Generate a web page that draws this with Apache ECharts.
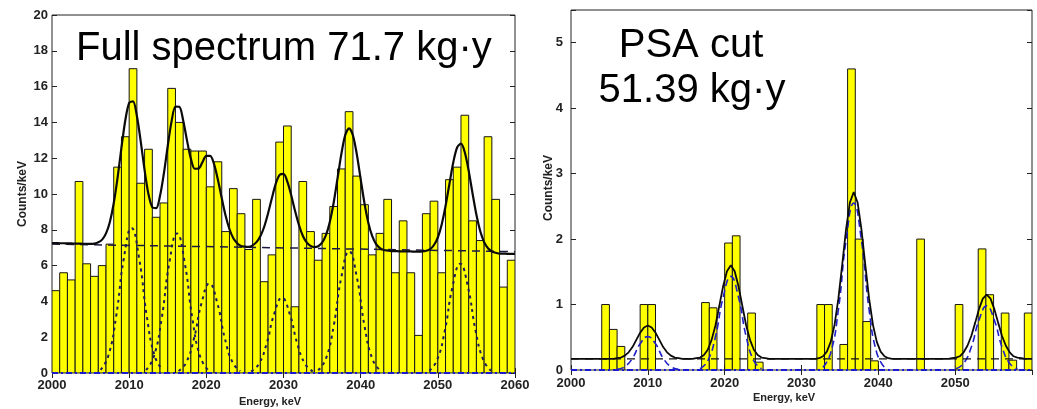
<!DOCTYPE html>
<html>
<head>
<meta charset="utf-8">
<script src="https://cdn.jsdelivr.net/npm/echarts@6/dist/echarts.min.js"></script>
<style>
  html, body { margin: 0; padding: 0; background: #fff; }
  #chart { width: 1037px; height: 409px; }
</style>
</head>
<body>
<div id="chart"></div>
<script>
// Energy bins: 1 keV wide, first bin starts at 2000 keV
const energyStart = 2000;
const xTicks = [2000, 2010, 2020, 2030, 2040, 2050, 2060];

// Full spectrum, counts per keV (2000 ... 2059)
const fullCounts = [
  4.6, 5.6, 5.2, 10.7, 6.1, 5.4, 6.0, 7.2, 11.5, 13.2,
  17.0, 10.6, 12.5, 8.7, 9.5, 15.9, 14.0, 12.5, 12.4, 12.4,
  10.4, 11.8, 7.9, 10.3, 8.9, 6.9, 9.7, 5.1, 6.6, 12.9,
  13.8, 3.7, 10.7, 7.9, 6.3, 7.8, 9.3, 11.4, 14.6, 11.0,
  9.4, 6.6, 7.8, 9.7, 5.6, 8.5, 5.6, 2.1, 8.9, 9.6,
  5.6, 10.8, 11.5, 14.4, 8.5, 7.4, 13.2, 9.7, 4.8, 6.3
];

// After pulse-shape cut, counts per keV (2000 ... 2059)
const psaCounts = [
  0, 0, 0, 0, 1.0, 0.62, 0.36, 0, 0, 1.0,
  1.0, 0, 0, 0, 0, 0, 0, 1.03, 0.95, 0,
  1.94, 2.05, 0, 0.87, 0.12, 0, 0, 0, 0, 0,
  0, 0, 1.0, 1.0, 0, 0.39, 4.6, 2.0, 0.74, 0.14,
  0, 0, 0, 0, 0, 2.0, 0, 0, 0, 0,
  1.0, 0, 0, 1.85, 1.15, 0, 0.87, 0.15, 0, 0.87
];

// Full spectrum: total fit curve, one point every 0.5 keV (2000 ... 2060)
const fitStep = 0.5;
const fullFit = [
  7.26, 7.26, 7.25, 7.25, 7.24, 7.24, 7.23, 7.23, 7.22, 7.22,
  7.21, 7.23, 7.30, 7.45, 7.80, 8.44, 9.48, 10.92, 12.59, 14.12,
  15.09, 15.18, 14.36, 12.93, 11.33, 9.99, 9.26, 9.21, 9.90, 11.15,
  12.69, 14.07, 14.88, 14.87, 14.11, 12.98, 11.96, 11.41, 11.42, 11.78,
  12.13, 12.13, 11.67, 10.79, 9.76, 8.78, 8.03, 7.53, 7.25, 7.10,
  7.06, 7.05, 7.13, 7.31, 7.64, 8.17, 8.92, 9.78, 10.58, 11.07,
  11.12, 10.69, 9.93, 9.05, 8.27, 7.67, 7.30, 7.10, 7.03, 7.08,
  7.28, 7.70, 8.44, 9.51, 10.87, 12.24, 13.29, 13.67, 13.27, 12.22,
  10.83, 9.47, 8.38, 7.64, 7.20, 6.98, 6.87, 6.84, 6.81, 6.81,
  6.80, 6.80, 6.79, 6.79, 6.78, 6.78, 6.79, 6.83, 6.92, 7.15,
  7.57, 8.30, 9.33, 10.56, 11.76, 12.60, 12.81, 12.32, 11.29, 10.03,
  8.84, 7.92, 7.31, 6.97, 6.79, 6.72, 6.67, 6.67, 6.66, 6.66,
  6.65
];
// Full spectrum: fitted background level
const fullBackground = [[2000, 7.2], [2060, 6.78]];
// Full spectrum: individual line components
const fullPeaks = [
  [[2006.3, 0.18], [2007.3, 0.96], [2008.3, 3.13], [2009.3, 6.38], [2010.3, 8.1], [2011.3, 6.38], [2012.3, 3.13], [2013.3, 0.96], [2014.3, 0.18]],
  [[2012.2, 0.17], [2013.2, 0.92], [2014.2, 3.01], [2015.2, 6.15], [2016.2, 7.8], [2017.2, 6.15], [2018.2, 3.01], [2019.2, 0.92], [2020.2, 0.17]],
  [[2016.4, 0.11], [2017.4, 0.59], [2018.4, 1.93], [2019.4, 3.94], [2020.4, 5.0], [2021.4, 3.94], [2022.4, 1.93], [2023.4, 0.59], [2024.4, 0.11]],
  [[2025.8, 0.09], [2026.8, 0.50], [2027.8, 1.62], [2028.8, 3.31], [2029.8, 4.2], [2030.8, 3.31], [2031.8, 1.62], [2032.8, 0.50], [2033.8, 0.09]],
  [[2034.5, 0.15], [2035.5, 0.80], [2036.5, 2.62], [2037.5, 5.36], [2038.5, 6.8], [2039.5, 5.36], [2040.5, 2.62], [2041.5, 0.80], [2042.5, 0.15]],
  [[2048.9, 0.13], [2049.9, 0.72], [2050.9, 2.35], [2051.9, 4.81], [2052.9, 6.1], [2053.9, 4.81], [2054.9, 2.35], [2055.9, 0.72], [2056.9, 0.13]]
];

// PSA-cut spectrum: total fit curve
const psaFit = [
  [2000, 0.17], [2005.5, 0.17], [2006, 0.18], [2006.5, 0.19], [2007, 0.22], [2007.5, 0.27],
  [2008, 0.35], [2008.5, 0.46], [2009, 0.57], [2009.5, 0.65], [2010, 0.68], [2010.5, 0.65],
  [2011, 0.57], [2011.5, 0.46], [2012, 0.35], [2012.5, 0.27], [2013, 0.22], [2013.5, 0.19],
  [2014, 0.18], [2014.5, 0.17], [2015.8, 0.17], [2016.3, 0.18], [2016.8, 0.19], [2017.3, 0.23],
  [2017.8, 0.31], [2018.3, 0.46], [2018.8, 0.68], [2019.3, 0.98], [2019.8, 1.28], [2020.3, 1.51],
  [2020.8, 1.60], [2021.3, 1.51], [2021.8, 1.28], [2022.3, 0.98], [2022.8, 0.68], [2023.3, 0.46],
  [2023.8, 0.31], [2024.3, 0.23], [2024.8, 0.19], [2025.3, 0.18], [2025.8, 0.17], [2031.8, 0.17],
  [2032.3, 0.18], [2032.8, 0.21], [2033.3, 0.28], [2033.8, 0.43], [2034.3, 0.69], [2034.8, 1.09],
  [2035.3, 1.61], [2035.8, 2.15], [2036.3, 2.56], [2036.8, 2.72], [2037.3, 2.56], [2037.8, 2.15],
  [2038.3, 1.61], [2038.8, 1.09], [2039.3, 0.69], [2039.8, 0.43], [2040.3, 0.28], [2040.8, 0.21],
  [2041.3, 0.18], [2041.8, 0.17], [2049.1, 0.17], [2049.6, 0.18], [2050.1, 0.19], [2050.6, 0.21],
  [2051.1, 0.27], [2051.6, 0.37], [2052.1, 0.52], [2052.6, 0.72], [2053.1, 0.93], [2053.6, 1.09],
  [2054.1, 1.15], [2054.6, 1.09], [2055.1, 0.93], [2055.6, 0.72], [2056.1, 0.52], [2056.6, 0.37],
  [2057.1, 0.27], [2057.6, 0.21], [2058.1, 0.19], [2058.6, 0.18], [2059.1, 0.17], [2060, 0.17]
];
const psaBackground = [[2000, 0.17], [2060, 0.17]];
const psaPeaks = [
  [[2006, 0.01], [2007, 0.05], [2008, 0.18], [2009, 0.40], [2010, 0.51], [2011, 0.40], [2012, 0.18], [2013, 0.05], [2014, 0.01]],
  [[2016.8, 0.02], [2017.8, 0.14], [2018.8, 0.51], [2019.8, 1.11], [2020.8, 1.43], [2021.8, 1.11], [2022.8, 0.51], [2023.8, 0.14], [2024.8, 0.02]],
  [[2032.8, 0.04], [2033.8, 0.26], [2034.8, 0.92], [2035.8, 1.98], [2036.8, 2.55], [2037.8, 1.98], [2038.8, 0.92], [2039.8, 0.26], [2040.8, 0.04]],
  [[2050.1, 0.02], [2051.1, 0.10], [2052.1, 0.35], [2053.1, 0.76], [2054.1, 0.98], [2055.1, 0.76], [2056.1, 0.35], [2057.1, 0.10], [2058.1, 0.02]]
];
const zeroLine = [[2000, 0], [2060, 0]];

const LABEL_FONT = 'Liberation Sans';
const chart = echarts.init(document.getElementById('chart'), null, { renderer: 'canvas' });

function histogram(counts, idx) {
  return {
    type: 'custom',
    xAxisIndex: idx, yAxisIndex: idx,
    clip: true,
    z: 1,
    data: counts.map((c, i) => [energyStart + i, c]),
    encode: { x: 0, y: 1 },
    renderItem: (params, api) => {
      const e = api.value(0), c = api.value(1);
      if (!(c > 0)) return null;
      const lo = api.coord([e, 0]);
      const hi = api.coord([e + 1, c]);
      return {
        type: 'rect',
        shape: { x: lo[0], y: hi[1], width: hi[0] - lo[0], height: lo[1] - hi[1] },
        style: { fill: '#ffff00', stroke: '#151515', lineWidth: 1 }
      };
    }
  };
}

function curve(data, idx, color, width, dash, z, smooth) {
  return {
    type: 'line', xAxisIndex: idx, yAxisIndex: idx,
    data: data, showSymbol: false, symbol: 'none', silent: true,
    smooth: smooth || false,
    lineStyle: { color: color, width: width, type: dash || 'solid' },
    z: z, clip: true
  };
}

function xAxisPair(gridIndex, margin, showMax) {
  const base = {
    type: 'value', gridIndex: gridIndex, min: 2000, max: 2060, interval: 10,
    splitLine: { show: false }, axisLine: { show: false },
    axisTick: { show: true, inside: true, length: 5, lineStyle: { color: '#222', width: 1 } }
  };
  return [
    Object.assign({}, base, {
      position: 'bottom',
      axisLabel: {
        show: true, margin: margin, color: '#222', fontFamily: LABEL_FONT, fontWeight: 'bold', fontSize: 13,
        showMaxLabel: showMax,
        formatter: v => (xTicks.indexOf(v) >= 0 ? String(v) : '')
      }
    }),
    Object.assign({}, base, { position: 'top', axisLabel: { show: false } })
  ];
}

function yAxisPair(gridIndex, max, interval, margin) {
  const base = {
    type: 'value', gridIndex: gridIndex, min: 0, max: max, interval: interval,
    splitLine: { show: false }, axisLine: { show: false },
    axisTick: { show: true, inside: true, length: 5, lineStyle: { color: '#222', width: 1 } }
  };
  return [
    Object.assign({}, base, {
      position: 'left',
      axisLabel: {
        show: true, margin: margin, color: '#222', fontFamily: LABEL_FONT, fontWeight: 'bold', fontSize: 13,
        formatter: v => (Math.abs(v - Math.round(v)) < 1e-9 && v <= max ? String(v) : '')
      }
    }),
    Object.assign({}, base, { position: 'right', axisLabel: { show: false } })
  ];
}

const series = [
  histogram(fullCounts, 0),
  curve(zeroLine, 0, '#1a1ad0', 2, [6, 3, 2, 3], 3, false),
  curve(fullBackground, 0, '#1a1a40', 1.5, [8, 6], 4, false),
  ...fullPeaks.map(p => curve(p, 0, '#1c1c5a', 2, [3, 4], 4, 0.5)),
  curve(fullFit.map((v, i) => [energyStart + i * fitStep, v]), 0, '#0a0a0a', 2.2, 'solid', 5, 0.3),

  histogram(psaCounts, 2),
  curve(zeroLine, 2, '#1a1ad0', 2, [6, 3, 2, 3], 3, false),
  ...psaPeaks.map(p => curve(p, 2, '#2020c8', 1.6, [7, 4], 4, 0.5)),
  curve(psaBackground, 2, '#111', 1.4, [8, 6], 4, false),
  curve(psaFit, 2, '#0a0a0a', 1.8, 'solid', 5, false)
];

const option = {
  animation: false,
  backgroundColor: '#ffffff',
  grid: [
    { left: 52, top: 15, width: 463, height: 358, show: true, borderColor: '#222', borderWidth: 1, backgroundColor: 'transparent' },
    { left: 571, top: 10, width: 461, height: 360, show: true, borderColor: '#222', borderWidth: 1, backgroundColor: 'transparent' }
  ],
  xAxis: [...xAxisPair(0, 6, true), ...xAxisPair(1, 7, false)],
  yAxis: [...yAxisPair(0, 20, 2, 4), ...yAxisPair(1, 5.5, 1, 8)],
  series: series,
  graphic: [
    { type: 'text', x: 76, y: 49, z: 10, style: { text: 'Full spectrum 71.7 kg·y', font: '40px "Liberation Sans"', fill: '#000', align: 'left', verticalAlign: 'middle' } },
    { type: 'text', x: 691, y: 46, z: 10, style: { text: 'PSA cut', font: '40px "Liberation Sans"', fill: '#000', align: 'center', verticalAlign: 'middle' } },
    { type: 'text', x: 692, y: 91, z: 10, style: { text: '51.39 kg·y', font: '40px "Liberation Sans"', fill: '#000', align: 'center', verticalAlign: 'middle' } },
    { type: 'text', x: 23, y: 194, rotation: Math.PI / 2, z: 10, style: { text: 'Counts/keV', font: 'bold 12px "Liberation Sans"', fill: '#222', align: 'center', verticalAlign: 'middle' } },
    { type: 'text', x: 549, y: 188, rotation: Math.PI / 2, z: 10, style: { text: 'Counts/keV', font: 'bold 12px "Liberation Sans"', fill: '#222', align: 'center', verticalAlign: 'middle' } },
    { type: 'text', x: 270, y: 402, z: 10, style: { text: 'Energy, keV', font: 'bold 11px "Liberation Sans"', fill: '#222', align: 'center', verticalAlign: 'middle' } },
    { type: 'text', x: 784, y: 398, z: 10, style: { text: 'Energy, keV', font: 'bold 11px "Liberation Sans"', fill: '#222', align: 'center', verticalAlign: 'middle' } }
  ]
};

chart.setOption(option);
</script>
</body>
</html>
